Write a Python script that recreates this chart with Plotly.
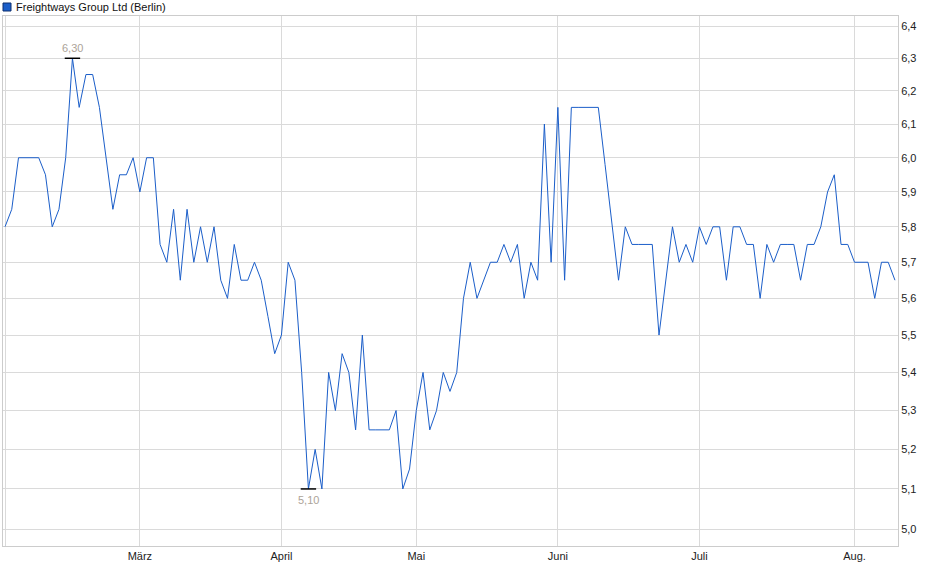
import math
import plotly.graph_objects as go

chart_title = 'Freightways Group Ltd (Berlin)'

# daily closing prices, one per trading day (mid Feb .. mid Aug)
prices = [
    5.80, 5.85, 6.00, 6.00, 6.00, 6.00, 5.95, 5.80, 5.85, 6.00,
    6.30, 6.15, 6.25, 6.25, 6.15, 6.00, 5.85, 5.95, 5.95, 6.00,
    5.90, 6.00, 6.00, 5.75, 5.70, 5.85, 5.65, 5.85, 5.70, 5.80,
    5.70, 5.80, 5.65, 5.60, 5.75, 5.65, 5.65, 5.70, 5.65, 5.55,
    5.45, 5.50, 5.70, 5.65, 5.40, 5.10, 5.20, 5.10, 5.40, 5.30,
    5.45, 5.40, 5.25, 5.50, 5.25, 5.25, 5.25, 5.25, 5.30, 5.10,
    5.15, 5.30, 5.40, 5.25, 5.30, 5.40, 5.35, 5.40, 5.60, 5.70,
    5.60, 5.65, 5.70, 5.70, 5.75, 5.70, 5.75, 5.60, 5.70, 5.65,
    6.10, 5.70, 6.15, 5.65, 6.15, 6.15, 6.15, 6.15, 6.15, 5.98,
    5.81, 5.65, 5.80, 5.75, 5.75, 5.75, 5.75, 5.50, 5.65, 5.80,
    5.70, 5.75, 5.70, 5.80, 5.75, 5.80, 5.80, 5.65, 5.80, 5.80,
    5.75, 5.75, 5.60, 5.75, 5.70, 5.75, 5.75, 5.75, 5.65, 5.75,
    5.75, 5.80, 5.90, 5.95, 5.75, 5.75, 5.70, 5.70, 5.70, 5.60,
    5.70, 5.70, 5.65,
]
days = list(range(len(prices)))

# first trading day of each month (index into prices)
month_start_idx = [0, 20, 41, 61, 82, 103, 126]
month_labels = ['', 'März', 'April', 'Mai', 'Juni', 'Juli', 'Aug.']

y_ticks = [5.0, 5.1, 5.2, 5.3, 5.4, 5.5, 5.6, 5.7, 5.8, 5.9, 6.0, 6.1, 6.2, 6.3, 6.4]

hi = max(prices)
lo = min(prices)
hi_idx = prices.index(hi)
lo_idx = prices.index(lo)

font_family = 'Liberation Sans, Arial, sans-serif'
grid_col = '#dadada'


def de_num(v):
    return f'{v:.2f}'.replace('.', ',')


fig = go.Figure()

fig.add_trace(go.Scatter(
    x=days,
    y=prices,
    mode='lines',
    line=dict(color='#1b5ec9', width=1),
    hovertemplate='%{y:.2f}<extra></extra>',
    showlegend=False,
))

# small black ticks at the high and the low
fig.add_trace(go.Scatter(
    x=[hi_idx, lo_idx],
    y=[hi, lo],
    mode='markers',
    marker=dict(symbol='line-ew', size=11, line=dict(color='black', width=1.5)),
    hoverinfo='skip',
    showlegend=False,
))

fig.add_annotation(x=hi_idx, y=math.log10(hi), text=de_num(hi), showarrow=False,
                   yanchor='bottom', yshift=2,
                   font=dict(family=font_family, size=11, color='#aca398'))
fig.add_annotation(x=lo_idx, y=math.log10(lo), text=de_num(lo), showarrow=False,
                   yanchor='top', yshift=-3,
                   font=dict(family=font_family, size=11, color='#aca398'))

# legend-like header: blue square + name
fig.add_shape(type='rect', xref='paper', yref='paper',
              xsizemode='pixel', ysizemode='pixel',
              xanchor=0, yanchor=1,
              x0=0, x1=8, y0=5, y1=13,
              fillcolor='#1b5ec9', line=dict(color='#0d2f6e', width=1))
fig.add_annotation(xref='paper', yref='paper', x=0, y=1,
                   xanchor='left', yanchor='middle', xshift=11, yshift=9,
                   text=chart_title, showarrow=False,
                   font=dict(family=font_family, size=11, color='#111111'))

fig.update_layout(
    width=940,
    height=579,
    margin=dict(l=3, r=42, t=16, b=33),
    plot_bgcolor='white',
    paper_bgcolor='white',
    separators=',.',
    showlegend=False,
    font=dict(family=font_family, size=11, color='#222222'),
)

fig.update_xaxes(
    range=[-0.3, 132.45],
    tickmode='array',
    tickvals=month_start_idx,
    ticktext=month_labels,
    showgrid=True,
    gridcolor=grid_col,
    gridwidth=1,
    showline=True,
    linecolor='#cccccc',
    mirror=True,
    zeroline=False,
    ticks='',
    tickfont=dict(size=11, color='#222222'),
)

fig.update_yaxes(
    type='log',
    range=[0.69541, 0.80835],
    side='right',
    tickmode='array',
    tickvals=y_ticks,
    tickformat='.1f',
    showgrid=True,
    gridcolor=grid_col,
    gridwidth=1,
    showline=True,
    linecolor='#cccccc',
    mirror=True,
    zeroline=False,
    ticks='',
    tickfont=dict(size=11, color='#222222'),
)

# drop the browser's default body margin so the figure sits at the page corner
fig.write_html('out.html', config={'displayModeBar': False},
               post_script="document.body.style.margin='0';")
